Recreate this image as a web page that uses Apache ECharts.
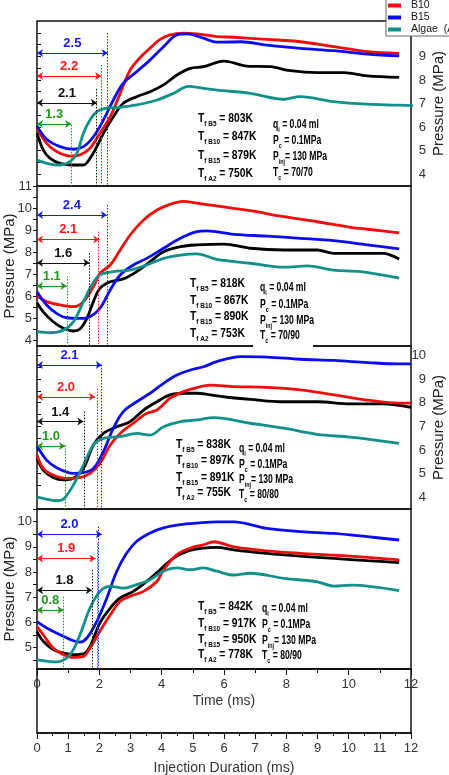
<!DOCTYPE html>
<html><head><meta charset="utf-8">
<script src="https://cdn.jsdelivr.net/npm/echarts@6/dist/echarts.min.js"></script>
<style>html,body{margin:0;padding:0;background:#fff}#c{width:449px;height:775px}</style>
</head><body><div id="c"></div>
<script>
// ---------- series identity ----------
const seriesNames = ['B5', 'B10', 'B15', 'Algae  (A2)'];
const seriesColors = ['#000000', '#f20c0c', '#0c0cf0', '#12908a'];

// ---------- Panel 1 (Tc = 70/70) ----------
const p1_B5 = [[0,5.74],[0.2,5.03],[0.42,4.67],[0.74,4.46],[1.17,4.39],[1.49,4.39],[1.7,4.67],[1.92,5.17],[2.13,5.74],[2.45,6.44],[2.77,7.01],[3.2,7.29],[3.63,7.5],[4.06,7.79],[4.49,8.21],[4.92,8.49],[5.34,8.56],[5.99,8.8],[6.74,8.59],[7.49,8.56],[8.13,8.39],[9.0,8.31],[9.85,8.31],[10.6,8.17],[11.62,8.11]];
const p1_B10 = [[0,5.95],[0.31,5.31],[0.63,4.96],[1.06,4.77],[1.38,4.82],[1.7,5.1],[2.02,5.74],[2.35,6.44],[2.67,7.43],[2.99,8.42],[3.31,8.95],[3.63,9.35],[3.95,9.72],[4.27,9.91],[4.7,9.98],[5.13,9.95],[5.77,9.84],[6.31,9.81],[7.38,9.72],[8.45,9.62],[9.52,9.41],[10.6,9.2],[11.62,9.13]];
const p1_B15 = [[0,6.05],[0.31,5.48],[0.74,5.17],[1.17,5.06],[1.49,5.17],[1.81,5.59],[2.13,6.3],[2.45,7.15],[2.77,7.86],[3.2,8.35],[3.63,8.85],[4.06,9.41],[4.49,9.91],[4.81,9.95],[5.34,9.77],[5.77,9.6],[6.53,9.62],[7.38,9.48],[8.45,9.34],[9.52,9.24],[10.6,9.1],[11.62,9.02]];
const p1_A2 = [[0,4.6],[0.42,4.43],[0.74,4.39],[1.06,4.53],[1.28,4.89],[1.49,5.74],[1.7,6.3],[1.92,6.65],[2.24,6.8],[2.67,6.84],[3.2,6.94],[3.85,7.15],[4.38,7.43],[4.86,7.73],[5.34,7.64],[5.77,7.57],[6.84,7.43],[7.92,7.18],[8.45,7.29],[9.52,7.08],[10.6,6.97],[11.62,6.93],[13.24,6.84]];

// ---------- Panel 2 (Tc = 70/90) ----------
const p2_B5 = [[0,5.71],[0.2,5.3],[0.52,4.85],[0.85,4.55],[1.17,4.43],[1.38,4.52],[1.6,5.0],[1.81,5.76],[2.02,6.36],[2.35,6.66],[2.77,6.79],[3.2,7.12],[3.63,7.57],[4.06,8.02],[4.6,8.25],[5.13,8.33],[5.99,8.37],[6.84,8.18],[7.92,8.1],[8.99,8.1],[9.52,7.95],[10.6,7.95],[11.1,7.95],[11.62,7.69]];
const p2_B10 = [[0,6.02],[0.31,5.76],[0.85,5.58],[1.17,5.53],[1.49,5.76],[1.81,6.44],[2.02,7.04],[2.35,7.42],[2.67,8.1],[2.99,8.78],[3.42,9.46],[3.85,9.91],[4.27,10.17],[4.7,10.3],[5.13,10.22],[5.77,10.1],[6.84,9.88],[7.92,9.61],[8.99,9.38],[10.06,9.13],[10.6,9.04],[11.62,8.88]];
const p2_B15 = [[0,6.21],[0.31,5.61],[0.63,5.23],[0.95,5.03],[1.38,5.0],[1.7,5.08],[2.02,5.46],[2.35,6.29],[2.67,6.97],[3.09,7.42],[3.52,7.72],[4.06,8.18],[4.6,8.63],[5.13,8.93],[5.45,8.97],[6.31,8.81],[7.38,8.73],[8.45,8.63],[9.52,8.52],[10.6,8.33],[11.62,8.15]];
const p2_A2 = [[0,4.4],[0.42,4.35],[0.85,4.47],[1.17,4.85],[1.49,5.76],[1.76,6.51],[2.02,6.97],[2.45,7.12],[2.99,7.19],[3.52,7.42],[4.06,7.72],[4.6,7.87],[5.13,7.92],[5.77,7.68],[6.84,7.5],[7.92,7.32],[8.67,7.38],[9.52,7.19],[10.38,7.12],[11.62,6.82]];

// ---------- Panel 3 (Tc = 80/80) ----------
const p3_B5 = [[0,5.65],[0.2,5.15],[0.52,4.83],[0.85,4.73],[1.17,4.8],[1.49,5.22],[1.81,6.21],[2.13,6.7],[2.56,6.98],[2.99,7.2],[3.42,7.69],[3.85,8.04],[4.27,8.33],[4.7,8.4],[5.13,8.4],[5.56,8.33],[6.1,8.23],[6.84,8.14],[7.92,8.04],[8.99,8.04],[10.06,7.95],[11.1,7.95],[12,7.8]];
const p3_B10 = [[0,5.79],[0.2,5.22],[0.52,4.94],[0.95,4.8],[1.38,4.83],[1.7,5.01],[2.02,5.43],[2.35,6.21],[2.67,6.7],[3.09,7.13],[3.52,7.55],[3.85,7.69],[4.27,8.19],[4.7,8.47],[5.13,8.64],[5.56,8.74],[6.31,8.68],[7.38,8.65],[8.45,8.54],[9.52,8.33],[10.6,8.11],[11.62,7.98],[12,7.98]];
const p3_B15 = [[0,6.17],[0.31,5.57],[0.63,5.25],[1.17,5.01],[1.49,5.04],[1.81,5.22],[2.13,5.93],[2.45,6.92],[2.77,7.62],[3.2,8.04],[3.63,8.4],[4.06,8.82],[4.49,9.17],[4.92,9.38],[5.34,9.52],[5.77,9.74],[6.53,9.95],[7.38,9.93],[8.45,9.84],[9.52,9.79],[10.6,9.7],[11.62,9.64],[12,9.64]];
const p3_A2 = [[0,4.0],[0.2,3.95],[0.63,3.85],[0.85,3.92],[1.17,4.52],[1.49,5.36],[1.81,6.21],[2.13,6.49],[2.67,6.56],[3.2,6.7],[3.63,6.63],[4.06,6.98],[4.6,7.2],[5.13,7.27],[5.67,7.37],[6.84,7.13],[7.92,6.92],[8.99,6.66],[10.06,6.54],[11.62,6.28]];

// ---------- Panel 4 (Tc = 80/90) ----------
const p4_B5 = [[0,5.63],[0.2,5.25],[0.52,4.92],[0.85,4.78],[1.17,4.72],[1.49,4.75],[1.7,5.05],[2.02,5.98],[2.35,6.57],[2.67,6.97],[3.09,7.23],[3.52,7.63],[3.95,8.09],[4.38,8.55],[4.81,8.82],[5.34,8.95],[5.77,8.98],[6.31,8.88],[7.38,8.74],[8.45,8.63],[9.52,8.54],[10.6,8.45],[11.62,8.37]];
const p4_B10 = [[0,5.83],[0.2,5.51],[0.52,4.98],[0.85,4.72],[1.17,4.61],[1.49,4.65],[1.7,4.98],[2.02,5.65],[2.35,6.3],[2.67,6.84],[2.99,7.04],[3.42,7.23],[3.85,7.63],[4.06,8.09],[4.49,8.69],[4.92,8.95],[5.34,9.08],[5.67,9.2],[6.31,9.0],[7.38,8.84],[8.45,8.74],[9.52,8.67],[10.6,8.58],[11.62,8.48]];
const p4_B15 = [[0,6.03],[0.31,5.78],[0.74,5.51],[1.17,5.27],[1.38,5.22],[1.6,5.38],[1.92,6.04],[2.24,6.97],[2.56,8.03],[2.88,8.75],[3.2,9.22],[3.63,9.55],[4.06,9.75],[4.6,9.88],[5.13,9.94],[5.77,9.99],[6.31,9.99],[7.38,9.73],[8.45,9.6],[9.52,9.53],[10.6,9.4],[11.62,9.27]];
const p4_A2 = [[0,4.51],[0.31,4.46],[0.63,4.43],[1.06,4.72],[1.38,5.51],[1.7,6.57],[2.02,7.23],[2.35,7.43],[2.77,7.36],[3.2,7.5],[3.63,7.69],[4.06,8.03],[4.49,8.16],[4.92,8.09],[5.34,8.16],[5.77,8.03],[6.31,7.88],[6.84,7.95],[7.92,7.75],[8.99,7.61],[9.52,7.44],[10.06,7.48],[11.62,7.26]];

// ---------- axes ----------
const yMin = [3.5, 3.75, 3.5, 4.15];
const yMax = [10.5, 11, 10.4, 10.5];
const yLabels1 = [4,5,6,7,8,9];
const yLabels2 = [4,5,6,7,8,9,10,11];
const yLabels3 = [4,5,6,7,8,9,10];
const yLabels4 = [5,6,7,8,9,10];
const yTicks1 = [4,4.5,5,5.5,6,6.5,7,7.5,8,8.5,9,9.5,10];
const yTicks2 = [4,4.5,5,5.5,6,6.5,7,7.5,8,8.5,9,9.5,10,10.5,11];
const yTicks3 = [4,4.5,5,5.5,6,6.5,7,7.5,8,8.5,9,9.5,10];
const yTicks4 = [4.5,5,5.5,6,6.5,7,7.5,8,8.5,9,9.5,10,10.5];
const ySide = ['right','left','right','left'];
const timeMin = 0, timeMax = 12;

// ---------- annotations (order: B15 blue, B10 red, B5 black, A2 green) ----------
const annColors = ['#1818ff', '#ff1818', '#111111', '#1e9b1e'];
const durLabels1 = ['2.5','2.2','2.1','1.3'];
const durLabels2 = ['2.4','2.1','1.6','1.1'];
const durLabels3 = ['2.1','2.0','1.4','1.0'];
const durLabels4 = ['2.0','1.9','1.8','0.8'];
const arrowEnd1 = [2.27,2.06,1.92,1.1],  arrowY1 = [9.14,8.17,7.03,6.13];
const arrowEnd2 = [2.24,2.0,1.68,0.95],  arrowY2 = [9.69,8.58,7.52,6.47];
const arrowEnd3 = [2.08,1.86,1.49,0.9],  arrowY3 = [9.6,8.25,7.2,6.17];
const arrowEnd4 = [2.08,1.88,1.76,0.85], arrowY4 = [9.5,8.54,7.28,6.49];
const dotX1 = [2.27,2.06,1.9,1.09],  dotTop1 = [9.99,8.63,7.62,6.09];
const dotX2 = [2.26,1.97,1.68,0.97], dotTop2 = [10.14,8.93,7.95,6.92];
const dotX3 = [2.05,1.94,1.51,0.9],  dotTop3 = [9.6,8.6,7.62,6.21];
const dotX4 = [1.97,1.92,1.78,0.85], dotTop4 = [9.8,9.14,8.08,7.02];

// ---------- text blocks ----------
const tfB5  = ['803K','818K','838K','842K'];
const tfB10 = ['847K','867K','897K','917K'];
const tfB15 = ['879K','890K','891K','950K'];
const tfA2  = ['750K','753K','755K','778K'];
const tcVals = ['70/70','70/90','80/80','80/90'];
const qiVal = '0.04 ml', pcVal = '0.1MPa', pinjVal = '130 MPa';

// ---------- build ----------
const panels = [
  {data:[p1_B5,p1_B10,p1_B15,p1_A2], labels:durLabels1, aEnd:arrowEnd1, aY:arrowY1, dX:dotX1, dT:dotTop1, yl:yLabels1, yt:yTicks1},
  {data:[p2_B5,p2_B10,p2_B15,p2_A2], labels:durLabels2, aEnd:arrowEnd2, aY:arrowY2, dX:dotX2, dT:dotTop2, yl:yLabels2, yt:yTicks2},
  {data:[p3_B5,p3_B10,p3_B15,p3_A2], labels:durLabels3, aEnd:arrowEnd3, aY:arrowY3, dX:dotX3, dT:dotTop3, yl:yLabels3, yt:yTicks3},
  {data:[p4_B5,p4_B10,p4_B15,p4_A2], labels:durLabels4, aEnd:arrowEnd4, aY:arrowY4, dX:dotX4, dT:dotTop4, yl:yLabels4, yt:yTicks4}
];
const FONT = 'Liberation Sans, Arial, sans-serif';
const gridTops = [21, 186, 346, 509, 669];
const gridHeights = [165, 160, 163, 160, 64];

const grid = gridTops.map((t, i) => ({
  left: 37, right: 38, top: t, height: gridHeights[i],
  containLabel: false, outerBoundsMode: 'none',
  show: true, borderColor: '#111', borderWidth: 1.5, backgroundColor: 'transparent'
}));

const xAxis = [], yAxis = [], series = [];
panels.forEach((p, gi) => {
  const isTime = gi === 3;
  xAxis.push({
    type: 'value', gridIndex: gi, min: timeMin, max: timeMax, interval: 2,
    show: isTime, position: 'bottom',
    axisLine: {show: isTime, lineStyle: {color: '#111', width: 1.5}},
    axisTick: {show: true, length: 6, lineStyle: {color: '#111'}},
    minorTick: {show: true, splitNumber: 2, length: 4, lineStyle: {color: '#111'}},
    splitLine: {show: false}, minorSplitLine: {show: false},
    axisLabel: {show: isTime, fontSize: 13, color: '#333', margin: 9, fontFamily: FONT},
    name: isTime ? 'Time (ms)' : '', nameLocation: 'middle', nameGap: 25, nameMoveOverlap: false,
    nameTextStyle: {fontSize: 14, color: '#333', fontFamily: FONT}
  });
  const right = ySide[gi] === 'right';
  yAxis.push({
    type: 'value', gridIndex: gi, min: yMin[gi], max: yMax[gi], position: ySide[gi],
    axisLine: {show: false},
    axisTick: {show: true, inside: false, length: 4, customValues: p.yt, lineStyle: {color: '#111'}},
    splitLine: {show: false},
    axisLabel: {show: true, customValues: p.yl, fontSize: 13, color: '#333', fontFamily: FONT,
                margin: right ? 15 : 5, align: 'right'},
    name: 'Pressure (MPa)', nameLocation: 'middle', nameGap: 20, nameRotate: 90, nameMoveOverlap: false,
    nameTextStyle: {fontSize: 15, color: '#222', fontFamily: FONT}
  });

  const mlData = [];
  for (let k = 0; k < 4; k++) {
    const c = annColors[k];
    mlData.push([
      {coord: [0, p.aY[k]], symbol: 'arrow', lineStyle: {color: c, width: 1.2, type: 'solid'},
       label: {show: true, formatter: p.labels[k], position: 'insideMiddleTop', distance: 3,
               color: c, fontWeight: 'bold', fontSize: 13, fontFamily: FONT}},
      {coord: [p.aEnd[k], p.aY[k]], symbol: 'arrow'}
    ]);
    mlData.push([
      {coord: [p.dX[k], p.dT[k]], symbol: 'none', lineStyle: {color: c, width: 1, type: [1.5, 1.5]}, label: {show: false}},
      {coord: [p.dX[k], yMin[gi]], symbol: 'none'}
    ]);
  }

  p.data.forEach((d, si) => {
    series.push({
      type: 'line', name: seriesNames[si], xAxisIndex: gi, yAxisIndex: gi, data: d,
      smooth: 0.35, symbol: 'none', showSymbol: false,
      lineStyle: {width: 2.8, color: seriesColors[si]}, itemStyle: {color: seriesColors[si]},
      clip: !(gi === 0 && si === 3), z: 2,
      markLine: si === 0 ? {silent: true, symbolSize: 6, animation: false, data: mlData} : undefined
    });
  });
});

// bottom (injection duration) frame
xAxis.push({
  type: 'value', gridIndex: 4, min: 0, max: 12, interval: 1, position: 'bottom',
  axisLine: {show: true, lineStyle: {color: '#111', width: 1.5}},
  axisTick: {show: true, length: 6, lineStyle: {color: '#111'}},
  minorTick: {show: true, splitNumber: 2, length: 3, lineStyle: {color: '#111'}},
  splitLine: {show: false}, minorSplitLine: {show: false},
  axisLabel: {fontSize: 13, color: '#333', margin: 9, fontFamily: FONT},
  name: 'Injection Duration (ms)', nameLocation: 'middle', nameGap: 28, nameMoveOverlap: false,
  nameTextStyle: {fontSize: 14, color: '#333', fontFamily: FONT}
});
yAxis.push({type: 'value', gridIndex: 4, min: 0, max: 1, show: false});
series.push({type: 'line', xAxisIndex: 4, yAxisIndex: 4, data: [], silent: true});

// text blocks
const col1X = [198, 190, 176, 198];
const col1Y = [[119,137,156,174],[284,301,317,334],[445,461,478,493],[607,624,640,655]];
const col2X = [273, 260, 239, 262];
const col2Y = [[125,141,157,173],[288,305,321,336],[449,465,480,495],[609,625,641,656]];
const rich = {
  b: {fontSize: 12, fontWeight: 'bold', fontFamily: FONT, color: '#1a1a1a', lineHeight: 18, verticalAlign: 'middle'},
  s: {fontSize: 7.5, fontWeight: 'bold', fontFamily: FONT, color: '#1a1a1a', lineHeight: 7, verticalAlign: 'bottom'}
};
const mk = (x, y, a, b, c, sx) => ({
  type: 'text', x: x, y: y, z: 50, scaleX: sx,
  style: {text: '{b|' + a + '}{s|' + b + '}{b|' + c + '}', rich: rich, verticalAlign: 'middle', align: 'left'}
});
const graphics = [];
const s1 = 0.86, s2 = 0.72;
for (let i = 0; i < 4; i++) {
  graphics.push(mk(col1X[i], col1Y[i][0], 'T', 'f B5', ' = ' + tfB5[i], s1));
  graphics.push(mk(col1X[i], col1Y[i][1], 'T', 'f B10', ' = ' + tfB10[i], s1));
  graphics.push(mk(col1X[i], col1Y[i][2], 'T', 'f B15', ' = ' + tfB15[i], s1));
  graphics.push(mk(col1X[i], col1Y[i][3], 'T', 'f A2', ' = ' + tfA2[i], s1));
  graphics.push(mk(col2X[i], col2Y[i][0], 'q', 'i', ' = ' + qiVal, s2));
  graphics.push(mk(col2X[i], col2Y[i][1], 'P', 'c', ' = ' + pcVal, s2));
  graphics.push(mk(col2X[i], col2Y[i][2], 'P', 'inj', '= ' + pinjVal, s2));
  graphics.push(mk(col2X[i], col2Y[i][3], 'T', 'c', ' = ' + tcVals[i], s2));
}
graphics.push({type: 'rect', z: 60, shape: {x: 253, y: 343, width: 60, height: 6}, style: {fill: '#fff'}});

const chart = echarts.init(document.getElementById('c'), null, {renderer: 'canvas'});
chart.setOption({
  animation: false,
  backgroundColor: '#fff',
  grid: grid, xAxis: xAxis, yAxis: yAxis, series: series,
  legend: {
    data: seriesNames, left: 386, top: -17, orient: 'vertical', icon: 'rect',
    itemWidth: 13, itemHeight: 4, itemGap: 1, padding: [5, 60, 1, 2],
    backgroundColor: '#fff', borderColor: '#666', borderWidth: 1, z: 20, selectedMode: false,
    textStyle: {fontSize: 10.5, lineHeight: 11, color: '#111', fontFamily: FONT, padding: [0, 0, 0, 5]}
  },
  graphic: {elements: graphics}
});
</script></body></html>
